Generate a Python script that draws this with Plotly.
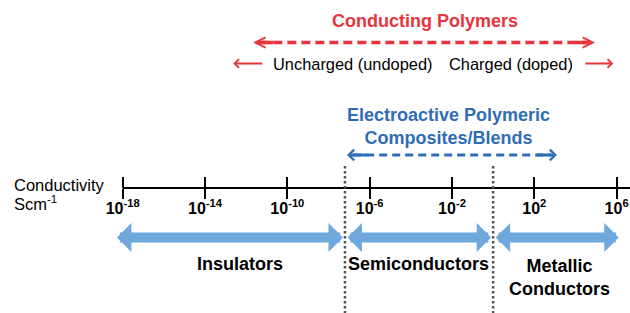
import plotly.graph_objects as go

# ---------------- data (log10 of conductivity, S/cm) ----------------
tick_exponents = [-18, -14, -10, -6, -2, 2, 6]
tick_labels = ["10<sup>-18</sup>", "10<sup>-14</sup>", "10<sup>-10</sup>", "10<sup>-6</sup>",
               "10<sup>-2</sup>", "10<sup>2</sup>", "10<sup>6</sup>"]

class_names = ["Insulators", "Semiconductors", "Metallic<br>Conductors"]
class_start = [-18.3, -7.1, 0.1]
class_end = [-7.3, -0.1, 6.1]
class_label_x = [-12.3, -3.65, 3.2]

boundaries = [-7.2, 0.0]

cp_title = "Conducting Polymers"
cp_range = [-11.66, 4.95]
cp_title_x = -3.29
state_names = ["Uncharged (undoped)", "Charged (doped)"]
state_x = [-6.84, 0.89]
state_arrow_tail = [-11.2, 4.46]
state_arrow_tip = [-12.63, 5.84]

eap_title = "Electroactive Polymeric<br>Composites/Blends"
eap_range = [-7.1, 3.1]
eap_title_x = -2.15

# ---------------- style ----------------
FONT = "Arial, 'Liberation Sans', sans-serif"
RED = "#E8353D"
BLUE_TXT = "#2F6DB5"
BLUE_ARROW = "#6FA8DC"
GREY = "#555555"
X_RANGE = [-23.962, 6.650]
Y_RANGE = [313, 0]
Y_AXIS = 188
AXIS_POS = 1 - Y_AXIS / 313

fig = go.Figure()
annotations = []
shapes = []

# number line
shapes.append(dict(type="line", xref="x", yref="y", x0=tick_exponents[0], x1=X_RANGE[1],
                   y0=Y_AXIS, y1=Y_AXIS, line=dict(color="black", width=2)))

# boundaries (dotted)
for b in boundaries:
    shapes.append(dict(type="line", xref="x", yref="y", x0=b, x1=b, y0=166, y1=313,
                       line=dict(color=GREY, width=2.5, dash="2.5px,2.5px")))

# class arrows and labels
for name, s, e, lx in zip(class_names, class_start, class_end, class_label_x):
    annotations.append(dict(x=e, y=237.5, ax=s, ay=237.5, axref="x", ayref="y", xref="x", yref="y",
                            text="", showarrow=True, arrowside="end+start",
                            arrowhead=1, startarrowhead=1, arrowsize=0.48, startarrowsize=0.48,
                            arrowwidth=10, arrowcolor=BLUE_ARROW, standoff=0, startstandoff=0,
                            borderpad=0))
    annotations.append(dict(x=lx, y=277 if "<br>" in name else 264, xref="x", yref="y",
                            text=name, showarrow=False, xanchor="center", yanchor="middle",
                            font=dict(family=FONT, size=18, color="black", weight="bold")))


def dashed_arrow(rng, y, color, width, dash, head, size):
    shrink = 0.3
    fig.add_trace(go.Scatter(x=[rng[0] + shrink, rng[1] - shrink], y=[y, y], mode="lines",
                             line=dict(color=color, width=width, dash=dash),
                             hoverinfo="skip", showlegend=False))
    for tip, tail in ((rng[0], rng[0] + 1.0), (rng[1], rng[1] - 1.0)):
        annotations.append(dict(x=tip, y=y, ax=tail, ay=y, axref="x", ayref="y", xref="x", yref="y",
                                text="", showarrow=True, arrowhead=head, arrowsize=size,
                                arrowwidth=width, arrowcolor=color, standoff=0, borderpad=0))


# conducting polymers
dashed_arrow(cp_range, 42.5, RED, 3.5, "9px,5px", 5, 0.57)
annotations.append(dict(x=cp_title_x, y=20.5, xref="x", yref="y", text=cp_title, showarrow=False,
                        xanchor="center", yanchor="middle",
                        font=dict(family=FONT, size=18, color=RED, weight="bold")))
for name, sx, tail, tip in zip(state_names, state_x, state_arrow_tail, state_arrow_tip):
    annotations.append(dict(x=sx, y=64, xref="x", yref="y", text=name, showarrow=False,
                            xanchor="center", yanchor="middle",
                            font=dict(family=FONT, size=16.4, color="black")))
    annotations.append(dict(x=tip, y=63.5, ax=tail, ay=63.5, axref="x", ayref="y", xref="x", yref="y",
                            text="", showarrow=True, arrowhead=4, arrowsize=0.85, arrowwidth=2,
                            arrowcolor=RED, standoff=0, borderpad=0))

# electroactive composites
dashed_arrow(eap_range, 155, BLUE_TXT, 3, "8px,5px", 4, 0.7)
annotations.append(dict(x=eap_title_x, y=126, xref="x", yref="y", text=eap_title, showarrow=False,
                        xanchor="center", yanchor="middle",
                        font=dict(family=FONT, size=18, color=BLUE_TXT, weight="bold")))

# axis title
annotations.append(dict(x=12 / 630, y=185, xref="paper", yref="y", text="Conductivity",
                        showarrow=False, xanchor="left", yanchor="middle",
                        font=dict(family=FONT, size=16.5, color="black")))
annotations.append(dict(x=12 / 630, y=203, xref="paper", yref="y", text="Scm<sup>-1</sup>",
                        showarrow=False, xanchor="left", yanchor="middle",
                        font=dict(family=FONT, size=16.5, color="black")))

# invisible trace on the overlay axis so it is drawn
fig.add_trace(go.Scatter(x=[tick_exponents[0]], y=[Y_AXIS], xaxis="x2", mode="markers",
                         marker=dict(opacity=0), hoverinfo="skip", showlegend=False))

fig.update_layout(
    width=630, height=313, margin=dict(l=0, r=0, t=0, b=0),
    paper_bgcolor="white", plot_bgcolor="white", showlegend=False,
    xaxis=dict(range=X_RANGE, anchor="free", position=AXIS_POS, showgrid=False, zeroline=False,
               showline=False, ticks="outside", ticklen=10, tickwidth=2, tickcolor="black",
               tickvals=tick_exponents, ticktext=tick_labels, ticklabelstandoff=-4,
               tickfont=dict(family=FONT, size=16, color="black", weight="bold")),
    xaxis2=dict(range=X_RANGE, matches="x", overlaying="x", anchor="free", position=AXIS_POS,
                showgrid=False, zeroline=False, showline=False, ticks="inside", ticklen=11,
                tickwidth=2, tickcolor="black", tickvals=tick_exponents, showticklabels=False),
    yaxis=dict(range=Y_RANGE, visible=False),
    shapes=shapes, annotations=annotations,
)

fig.write_html("out.html", config={"displayModeBar": False},
               post_script="document.body.style.margin='0px';")
